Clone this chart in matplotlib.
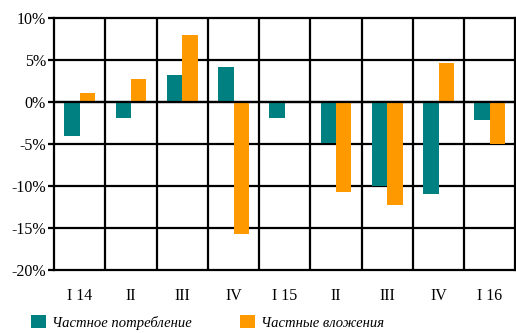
import numpy as np
import matplotlib.pyplot as plt

plt.rcParams['font.family'] = ['Liberation Serif', 'DejaVu Serif']

# кварталы и темпы роста, %
quarters = ["I 14", "II", "III", "IV", "I 15", "II", "III", "IV", "I 16"]
consumption = [-4.0, -1.9, 3.2, 4.2, -1.9, -4.9, -10.0, -10.9, -2.1]
investment = [1.1, 2.7, 8.0, -15.7, 0.0, -10.7, -12.3, 4.7, -5.0]

teal = "#008080"
orange = "#FF9900"

fig = plt.figure(figsize=(5.16, 3.33), dpi=100)
ax = fig.add_axes([0.105, 0.189, 0.894, 0.757])

x = np.arange(len(quarters))
w = 0.3
ax.bar(x - w / 2, consumption, w, color=teal, label="Частное потребление", zorder=3)
ax.bar(x + w / 2, investment, w, color=orange, label="Частные вложения", zorder=3)

ax.set_xlim(-0.5, len(quarters) - 0.5)
ax.set_ylim(-20, 10)
ax.set_yticks(np.arange(-20, 11, 5))
ax.set_yticklabels([f"{v}%" for v in range(-20, 11, 5)])
ax.set_xticks(x)
ax.set_xticklabels(quarters)

# сетка: горизонтальные линии по делениям, вертикальные между кварталами
for y in range(-15, 10, 5):
    ax.axhline(y, color="black", lw=1.6, zorder=2)
for xv in x[:-1] + 0.5:
    ax.axvline(xv, color="black", lw=1.6, zorder=2)
ax.axhline(0, color="black", lw=1.6, zorder=4)

for s in ax.spines.values():
    s.set_linewidth(1.6)
    s.set_color("black")

ax.tick_params(axis="y", length=4, width=1.6, labelsize=11.5, pad=2)
ax.tick_params(axis="x", length=0, labelsize=11.5, pad=13)

fig.legend(loc="lower left", bbox_to_anchor=(0.035, -0.03), ncol=2,
           frameon=False, handlelength=1.0, handleheight=1.0,
           handletextpad=0.45, columnspacing=3.3,
           prop={"style": "italic", "size": 10.5})

fig.savefig("out.png", dpi=100)
